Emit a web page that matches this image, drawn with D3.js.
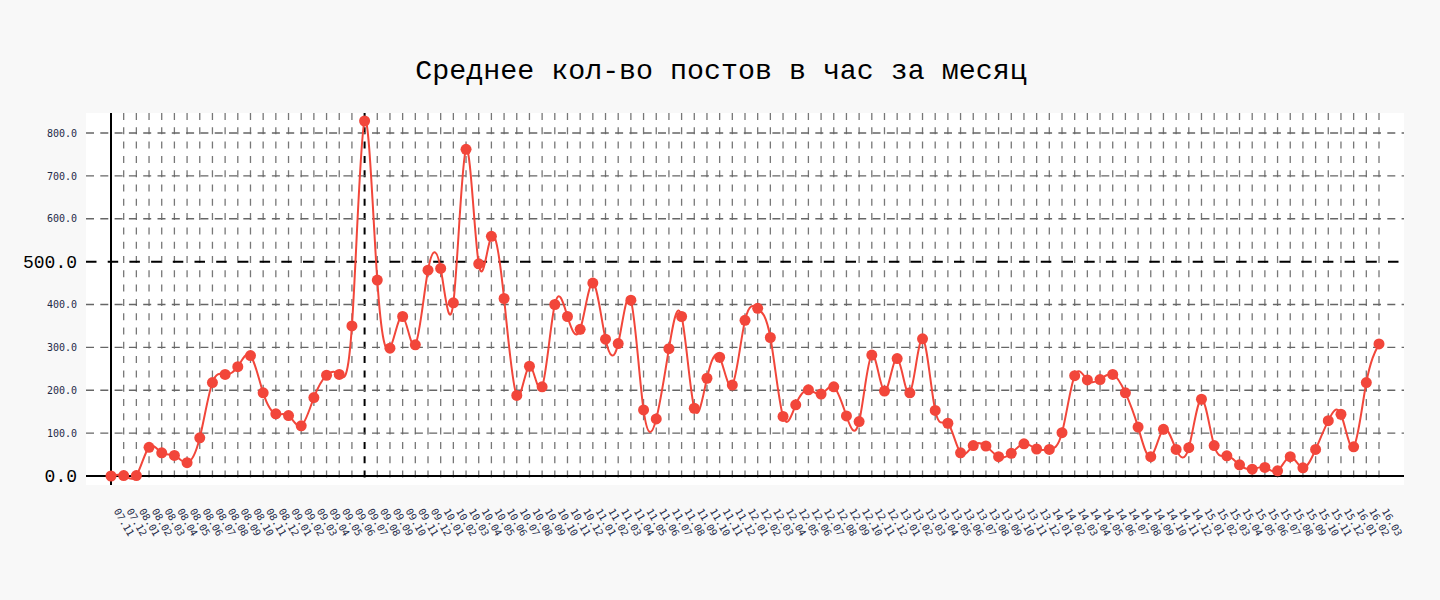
<!DOCTYPE html>
<html><head><meta charset="utf-8">
<script src="https://cdn.jsdelivr.net/npm/d3@7"></script>
<style>body{margin:0;background:#f8f8f8}</style>
</head><body><svg id="c" width="1440" height="600"></svg>
<script>
const months = ["07.11","07.12",
"08.01","08.02","08.03","08.04","08.05","08.06","08.07","08.08","08.09","08.10","08.11","08.12",
"09.01","09.02","09.03","09.04","09.05","09.06","09.07","09.08","09.09","09.10","09.11","09.12",
"10.01","10.02","10.03","10.04","10.05","10.06","10.07","10.08","10.09","10.10","10.11","10.12",
"11.01","11.02","11.03","11.04","11.05","11.06","11.07","11.08","11.09","11.10","11.11","11.12",
"12.01","12.02","12.03","12.04","12.05","12.06","12.07","12.08","12.09","12.10","12.11","12.12",
"13.01","13.02","13.03","13.04","13.05","13.06","13.07","13.08","13.09","13.10","13.11","13.12",
"14.01","14.02","14.03","14.04","14.05","14.06","14.07","14.08","14.09","14.10","14.11","14.12",
"15.01","15.02","15.03","15.04","15.05","15.06","15.07","15.08","15.09","15.10","15.11","15.12",
"16.01","16.02","16.03"];
const posts = [0,1,
1,67,54,48,31,89,218,237,255,281,194,145,
141,117,183,235,237,350,828,457,298,372,306,480,
484,404,762,495,559,414,188,256,208,400,372,342,
450,319,309,410,154,133,297,372,158,228,277,212,
363,391,323,139,166,201,191,208,140,127,282,198,
274,194,320,153,123,54,71,70,45,53,75,63,
62,101,234,224,225,237,194,114,45,109,62,66,
179,71,47,26,16,20,12,45,19,62,129,144,
68,218,308];
const yTicks = [0,100,200,300,400,500,600,700,800];
const bigTicks = [0,500];
const markLevel = 500;
const markMonth = "09.07";
const title = "Среднее кол-во постов в час за месяц";

const svg = d3.select("#c");
const x = d3.scalePoint().domain(months).range([111,1379]);
const y = d3.scaleLinear().domain([0,800]).range([476,133]);
const box = {l:86, r:1404, t:113, b:485};

svg.append("rect").attr("x",box.l).attr("y",box.t).attr("width",box.r-box.l).attr("height",box.b-box.t).attr("fill","#fff");

svg.append("text").attr("x",721).attr("y",79).attr("text-anchor","middle")
  .style("font-family","'Liberation Mono', monospace").style("font-size","28.3px").attr("fill","#000").text(title);

// vertical grid
svg.append("g").selectAll("line").data(months.slice(1)).join("line")
  .attr("x1",d=>x(d)).attr("x2",d=>x(d)).attr("y1",box.t).attr("y2",481)
  .attr("stroke",d=>d===markMonth?"#000":"#777").attr("stroke-width",d=>d===markMonth?2:1.3)
  .attr("stroke-dasharray","7,7.3");

// horizontal grid
svg.append("g").selectAll("line").data(yTicks.filter(v=>v>0)).join("line")
  .attr("x1",box.l).attr("x2",box.r).attr("y1",d=>y(d)).attr("y2",d=>y(d))
  .attr("stroke",d=>d===markLevel?"#000":"#666").attr("stroke-width",d=>d===markLevel?2:1.3)
  .attr("stroke-dasharray",d=>d===markLevel?"10.5,11.2":"8,6.3");

// axes lines
svg.append("line").attr("x1",x(months[0])).attr("x2",x(months[0])).attr("y1",box.t).attr("y2",box.b).attr("stroke","#000").attr("stroke-width",2);
svg.append("line").attr("x1",box.l).attr("x2",box.r).attr("y1",y(0)).attr("y2",y(0)).attr("stroke","#000").attr("stroke-width",2);

// y axis labels
const ya = svg.append("g").attr("transform",`translate(${x(months[0])},0)`)
  .call(d3.axisLeft(y).tickValues(yTicks).tickFormat(d3.format(".1f")).tickSize(0).tickPadding(34));
ya.select(".domain").remove();
ya.selectAll("text")
  .style("font-family",d=>bigTicks.includes(d)?"'Liberation Mono', monospace":"'DejaVu Sans Mono', monospace")
  .style("font-size",d=>bigTicks.includes(d)?"18px":"10px")
  .attr("fill",d=>bigTicks.includes(d)?"#000":"#1f2b48");

// x axis labels
const xa = svg.append("g").attr("transform",`translate(0,${y(0)})`)
  .call(d3.axisBottom(x).tickSize(0));
xa.select(".domain").remove();
xa.selectAll("text").attr("x",0).attr("y",0).attr("dy",0)
  .attr("text-anchor","start").attr("transform","translate(2,35) rotate(60)")
  .style("font-family","'DejaVu Sans Mono', monospace").style("font-size","10px").attr("fill","#1f2b48");

// line
const line = d3.line().x((d,i)=>x(months[i])).y(d=>y(d)).curve(d3.curveNatural);
svg.append("path").datum(posts).attr("d",line).attr("fill","none").attr("stroke","#f2463a").attr("stroke-width",2);
svg.append("g").selectAll("circle").data(posts).join("circle")
  .attr("cx",(d,i)=>x(months[i])).attr("cy",d=>y(d)).attr("r",5.5).attr("fill","#f2463a");
</script></body></html>
